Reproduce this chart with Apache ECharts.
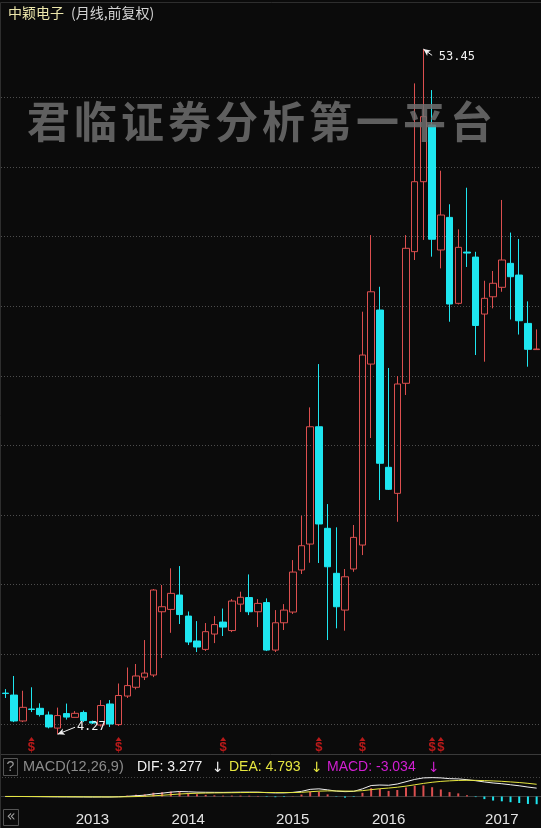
<!DOCTYPE html>
<html><head><meta charset="utf-8">
<script src="https://cdn.jsdelivr.net/npm/echarts@6/dist/echarts.min.js"></script>
<style>html,body{margin:0;padding:0;background:#0b0b0b;}#c{width:541px;height:828px;}</style>
</head><body><div id="c"></div>
<script>
const months = ['2012-06','2012-07','2012-08','2012-09','2012-10','2012-11','2012-12',
'2013-01','2013-02','2013-03','2013-04','2013-05','2013-06','2013-07','2013-08','2013-09','2013-10','2013-11','2013-12',
'2014-01','2014-02','2014-03','2014-04','2014-05','2014-06','2014-07','2014-08','2014-09','2014-10','2014-11','2014-12',
'2015-01','2015-02','2015-03','2015-04','2015-05','2015-06','2015-07','2015-08','2015-09','2015-10','2015-11','2015-12',
'2016-01','2016-02','2016-03','2016-04','2016-05','2016-06','2016-07','2016-08','2016-09','2016-10','2016-11','2016-12',
'2017-01','2017-02','2017-03','2017-04','2017-05','2017-06','2017-07'];
const opens  = [7.22,7.08,5.22,6.08,6.13,5.65,4.71,5.75,5.48,5.83,5.18,4.93,6.44,4.96,7.01,7.64,8.37,8.52,13.06,13.23,14.26,12.75,10.96,10.36,11.46,12.32,11.71,13.61,14.08,13.06,13.72,10.31,12.27,13.04,16.06,17.92,26.34,19.05,15.82,13.18,16.13,17.85,30.84,34.72,23.43,21.56,29.46,38.91,43.93,48.00,39.03,41.37,35.20,38.88,38.52,34.43,35.67,36.35,38.07,37.23,33.76,31.88];
const closes = [7.19,5.22,6.20,6.05,5.68,4.79,5.61,5.50,5.77,5.25,5.07,6.33,5.00,7.05,7.76,8.45,8.66,14.62,13.42,14.38,12.86,10.89,10.53,11.63,12.14,11.96,13.83,14.10,13.06,13.66,10.31,12.27,13.18,15.91,17.80,26.34,19.36,16.29,13.42,15.57,18.40,31.49,36.03,23.72,21.85,29.41,39.15,43.93,48.60,39.80,41.54,35.15,39.22,38.81,33.61,35.56,36.64,38.31,37.11,33.95,31.90,31.92];
const lows   = [6.87,5.14,5.14,5.86,5.54,4.69,4.27,5.32,5.47,5.14,5.00,4.82,4.79,4.86,6.87,7.49,8.16,8.37,9.74,11.55,12.18,10.67,10.17,10.24,10.81,11.32,11.60,13.04,12.82,11.96,10.24,10.17,11.75,12.90,15.77,16.58,16.56,11.03,11.87,11.70,15.93,17.13,25.53,21.08,21.80,19.52,28.62,38.31,39.75,38.55,37.71,33.88,35.12,37.81,31.49,31.01,34.84,36.03,34.04,32.96,30.65,31.85];
const highs  = [7.51,8.45,7.39,7.64,6.49,5.90,6.18,6.47,5.93,5.97,5.25,6.72,6.72,7.91,9.06,9.31,11.03,14.69,14.98,16.18,16.34,13.08,12.39,12.25,12.75,13.29,13.97,14.50,15.74,13.97,14.02,13.18,13.61,16.77,19.95,27.73,30.84,20.79,19.12,16.13,19.29,34.60,40.10,36.39,30.56,29.98,40.10,50.99,53.45,50.51,44.72,42.31,40.51,43.50,38.90,36.82,37.52,42.62,40.28,39.82,35.34,33.33];
const dif = [0,0,-0.02,-0.05,-0.08,-0.12,-0.15,-0.17,-0.18,-0.20,-0.22,-0.20,-0.22,-0.12,0.05,0.30,0.50,1.00,1.30,1.70,1.95,1.85,1.70,1.65,1.62,1.60,1.65,1.70,1.72,1.70,1.50,1.40,1.42,1.60,2.00,2.80,3.00,2.60,2.10,1.90,2.00,3.00,4.30,4.50,4.40,4.90,5.80,6.70,7.30,7.40,7.30,7.00,6.90,6.60,6.20,5.70,5.30,5.00,4.60,4.20,3.70,3.277];
const dea = [0,0,-0.01,-0.02,-0.03,-0.05,-0.07,-0.09,-0.11,-0.13,-0.15,-0.16,-0.17,-0.16,-0.12,-0.04,0.07,0.26,0.47,0.72,0.97,1.15,1.26,1.34,1.40,1.44,1.48,1.53,1.57,1.60,1.58,1.54,1.52,1.54,1.63,1.86,2.09,2.19,2.17,2.12,2.10,2.28,2.68,3.04,3.31,3.63,4.06,4.59,5.13,5.58,5.92,6.14,6.29,6.35,6.32,6.22,6.10,5.95,5.72,5.48,5.17,4.793];
const macd = [0,0,-0.02,-0.06,-0.10,-0.14,-0.16,-0.16,-0.14,-0.14,-0.14,-0.08,-0.10,0.08,0.34,0.68,0.86,1.48,1.66,1.96,1.96,1.40,0.88,0.62,0.44,0.32,0.34,0.34,0.30,0.20,-0.16,-0.28,-0.20,0.12,0.74,1.88,1.82,0.82,-0.14,-0.44,-0.20,1.44,3.24,2.92,2.18,2.54,3.48,4.22,4.34,3.64,2.76,1.72,1.22,0.50,-0.24,-1.04,-1.60,-1.90,-2.24,-2.56,-2.94,-3.034];
const yearLabels = ['2013','2014','2015','2016','2017'];
const yearLabelIdx = [10,21,33,44,57];
const signalIdx = [3,13,25,36,41,49,50];
const annotIdx = [48,6];
const annotText = ['53.45','4.27'];
const macdHeader = {dif:'3.277', dea:'4.793', macd:'-3.034'};
const watermark = '君临证券分析第一平台';

const UP = '#dc4f4f', DOWN = '#1ee6f0';
const chart = echarts.init(document.getElementById('c'));
const candleData = opens.map((o,i)=>[o, closes[i], lows[i], highs[i]]);
const sigLevel = 3.92;

const graphics = [
  {type:'rect', shape:{x:0.5,y:2.5,width:545,height:830}, style:{fill:null, stroke:'#2e2e2e', lineWidth:1}, silent:true, z:1},
  {type:'line', shape:{x1:0,y1:754.5,x2:541,y2:754.5}, style:{stroke:'#3a3a3a', lineWidth:1}, silent:true},
  {type:'line', shape:{x1:2,y1:777.5,x2:541,y2:777.5}, style:{stroke:'#454545', lineWidth:1, lineDash:[1,2]}, silent:true},
  {type:'text', left:8, top:6, style:{text:'中颖电子', fill:'#ece6ab', font:'14px "Noto Sans CJK SC"'}},
  {type:'text', left:71, top:6, style:{text:'(月线,前复权)', fill:'#d4d4d4', font:'14px "Noto Sans CJK SC"'}},
  {type:'rect', shape:{x:3.5,y:758.5,width:14,height:17}, style:{fill:null, stroke:'#555', lineWidth:1}},
  {type:'text', x:10.5, y:767, style:{text:'?', fill:'#9a9a9a', font:'14px "Liberation Sans"', align:'center', verticalAlign:'middle'}},
  {type:'text', x:23, y:767, style:{text:'MACD(12,26,9)', fill:'#8c8c8c', font:'14.5px "Liberation Sans"', verticalAlign:'middle'}},
  {type:'text', x:137, y:767, style:{text:'DIF: '+macdHeader.dif, fill:'#f2f2f2', font:'14px "Liberation Sans"', verticalAlign:'middle'}},
  {type:'text', x:212, y:768, style:{text:'↓', fill:'#f2f2f2', font:'14px "DejaVu Sans"', verticalAlign:'middle'}},
  {type:'text', x:229, y:767, style:{text:'DEA: '+macdHeader.dea, fill:'#e6e640', font:'14px "Liberation Sans"', verticalAlign:'middle'}},
  {type:'text', x:311, y:768, style:{text:'↓', fill:'#e6e640', font:'14px "DejaVu Sans"', verticalAlign:'middle'}},
  {type:'text', x:327, y:767, style:{text:'MACD: '+macdHeader.macd, fill:'#d21fd2', font:'14px "Liberation Sans"', verticalAlign:'middle'}},
  {type:'text', x:428, y:768, style:{text:'↓', fill:'#d21fd2', font:'14px "DejaVu Sans"', verticalAlign:'middle'}},
  {type:'rect', shape:{x:3.5,y:809.5,width:15,height:16}, style:{fill:null, stroke:'#555', lineWidth:1}},
  {type:'text', x:11, y:817, style:{text:'«', fill:'#a0a0a0', font:'15px "DejaVu Sans"', align:'center', verticalAlign:'middle'}}
];
watermark.split('').forEach((ch,k)=>{
  graphics.push({type:'text', x:27+47*k, y:122, z:100, silent:true,
    style:{text:ch, fill:'rgba(110,110,110,0.85)', font:'bold 43px "Noto Sans CJK SC"', verticalAlign:'middle'}});
});

const option = {
  backgroundColor:'#0b0b0b',
  animation:false,
  grid:[
    {left:1, right:0, top:27.5, bottom:34.3},
    {left:1, right:0, top:777, height:28}
  ],
  xAxis:[
    {type:'category', data:months, gridIndex:0, boundaryGap:true,
     axisLine:{show:false}, axisTick:{show:false}, axisLabel:{show:false}, splitLine:{show:false}},
    {type:'category', data:months, gridIndex:1, boundaryGap:true,
     axisLine:{show:true, lineStyle:{color:'#3c3c3c'}}, axisTick:{show:false}, splitLine:{show:false},
     axisLabel:{interval:(i)=>yearLabelIdx.indexOf(i)>=0,
       formatter:(v,i)=>{const k=yearLabelIdx.indexOf(i); return k>=0?yearLabels[k]:'';},
       color:'#e4e4e4', fontSize:15, fontFamily:'Liberation Sans', margin:7}}
  ],
  yAxis:[
    {type:'value', gridIndex:0, min:0, max:55, interval:5,
     axisLine:{show:false}, axisTick:{show:false}, axisLabel:{show:false},
     splitLine:{show:true, showMinLine:false, showMaxLine:false, lineStyle:{color:'#4d4d4d', width:1, type:[1,2]}}},
    {type:'value', gridIndex:1, min:-3.35, max:7.65,
     axisLine:{show:false}, axisTick:{show:false}, axisLabel:{show:false}, splitLine:{show:false}}
  ],
  series:[
    {type:'candlestick', xAxisIndex:0, yAxisIndex:0, data:candleData, barWidth:7,
     itemStyle:{color:'rgba(0,0,0,0)', color0:DOWN, borderColor:UP, borderColor0:DOWN, borderWidth:1},
     markLine:{silent:true, animation:false, symbol:['arrow','none'], symbolSize:[5,7], precision:2,
       lineStyle:{color:'#f0f0f0', width:1, type:'solid'},
       label:{show:true, position:'end', distance:2, color:'#f0f0f0', fontFamily:'DejaVu Sans Mono', fontSize:12,
         formatter:(p)=>annotText[p.dataIndex]},
       data:[
         [{coord:[annotIdx[0], highs[annotIdx[0]]], label:{padding:[0,0,0,5]}},{coord:[annotIdx[0]+1, highs[annotIdx[0]]-0.45]}],
         [{coord:[annotIdx[1], lows[annotIdx[1]]]},{coord:[annotIdx[1]+2, lows[annotIdx[1]]+0.5]}]
       ]}
    },
    {type:'scatter', xAxisIndex:0, yAxisIndex:0, data:signalIdx.map(i=>[i, sigLevel]),
     symbol:'triangle', symbolSize:[6,4], itemStyle:{color:'#e41e1e'}, silent:true,
     label:{show:true, position:'bottom', distance:0, formatter:'$', color:'#e41e1e', fontSize:13, fontWeight:'bold', fontFamily:'Liberation Sans'}},
    {type:'bar', xAxisIndex:1, yAxisIndex:1, data:macd, barWidth:2, silent:true,
     itemStyle:{color:(p)=>p.value>=0?UP:DOWN}},
    {type:'line', xAxisIndex:1, yAxisIndex:1, data:dif, symbol:'none', silent:true,
     lineStyle:{color:'#f0f0f0', width:1}},
    {type:'line', xAxisIndex:1, yAxisIndex:1, data:dea, symbol:'none', silent:true,
     lineStyle:{color:'#e6e640', width:1}}
  ],
  graphic:graphics
};
chart.setOption(option);
</script></body></html>
